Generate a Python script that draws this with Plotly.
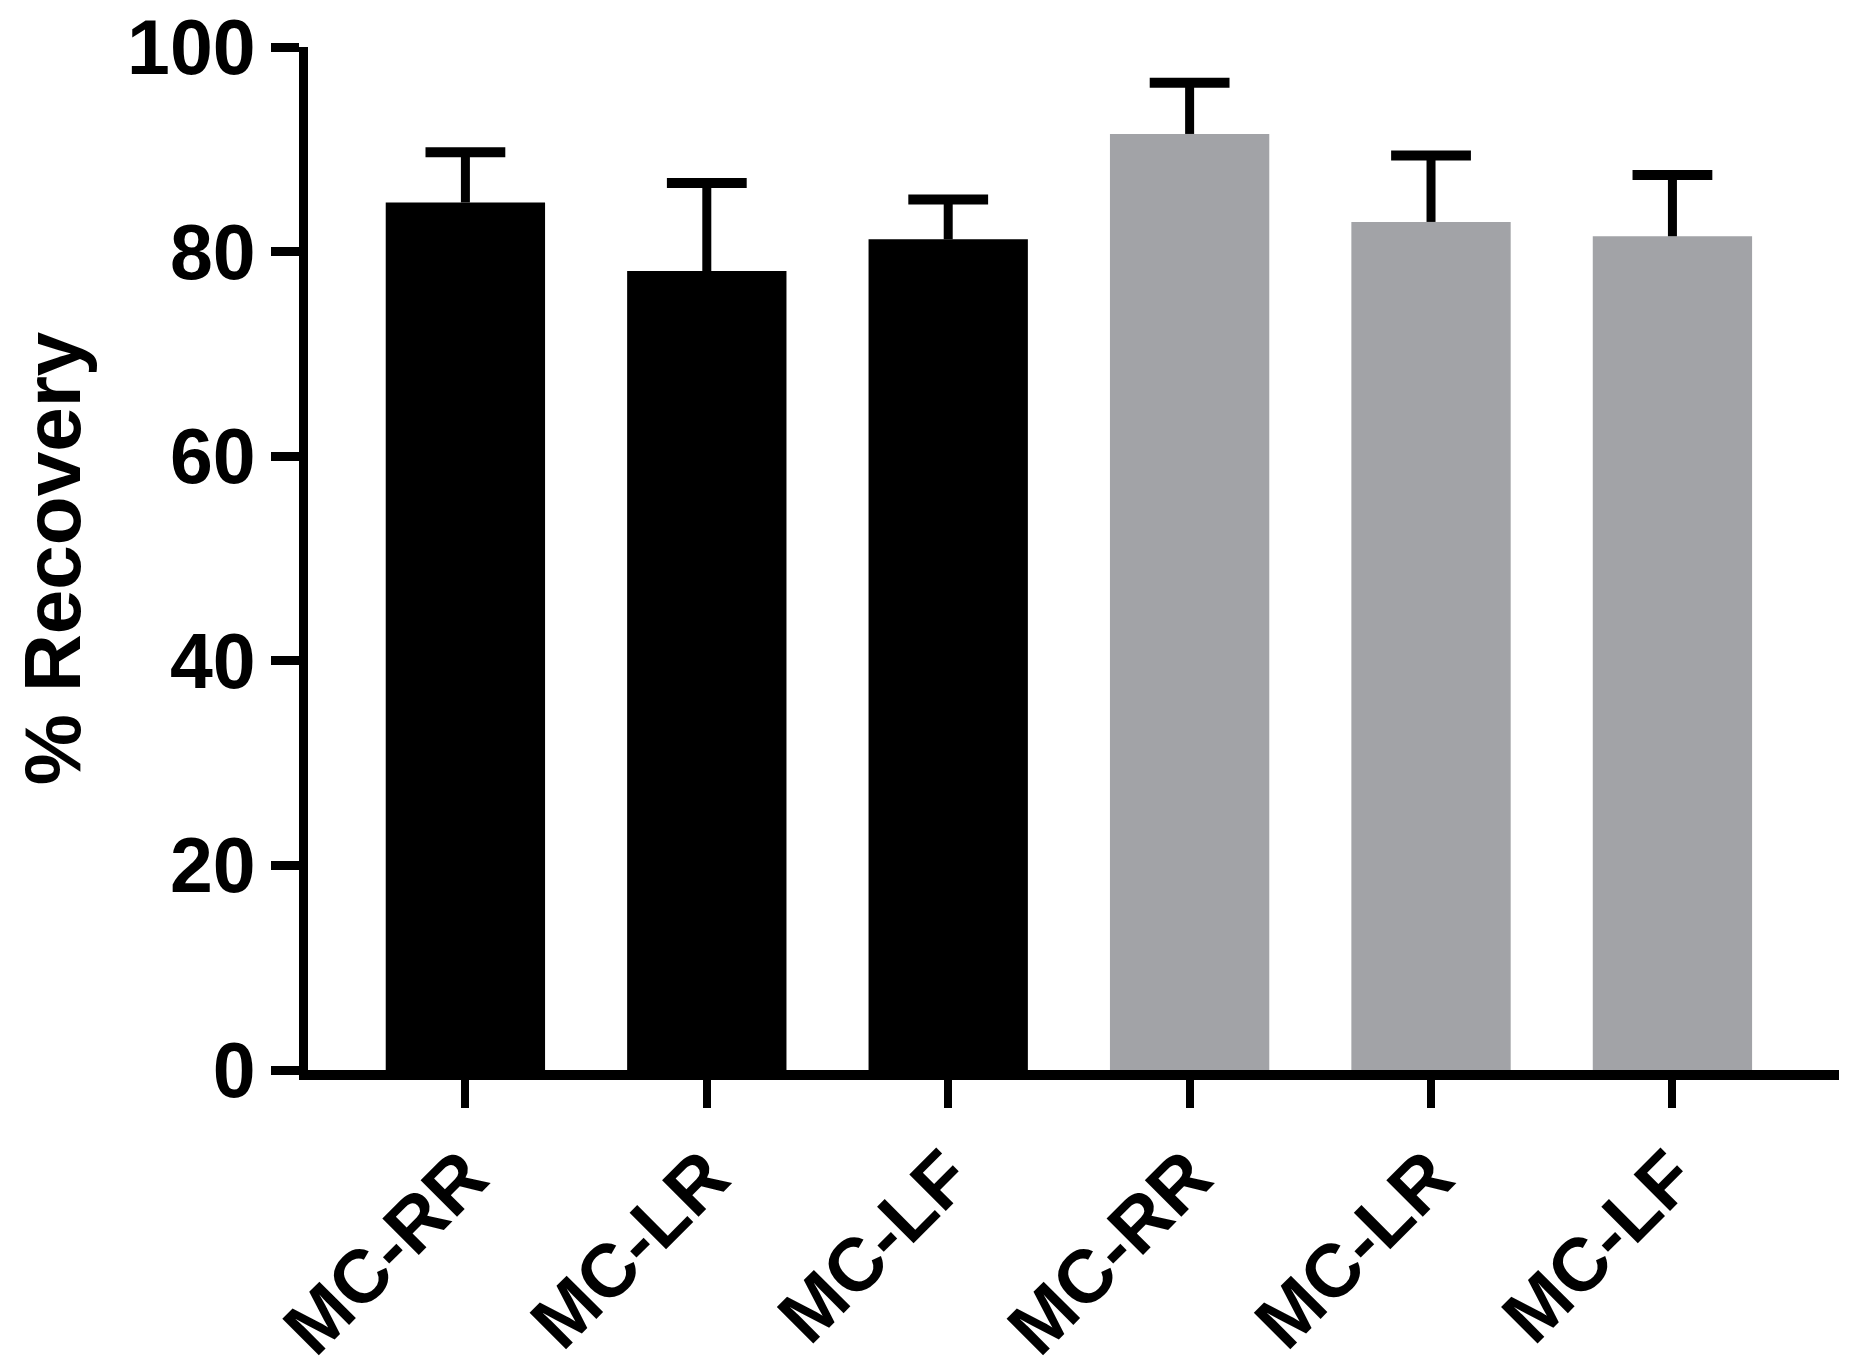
import plotly.graph_objects as go

# ── data ──────────────────────────────────────────────────
labels = ["MC-RR", "MC-LR", "MC-LF", "MC-RR", "MC-LR", "MC-LF"]
recovery = [84.8, 78.1, 81.2, 91.5, 82.9, 81.5]
sd_up = [4.9, 8.6, 3.9, 5.0, 6.5, 6.0]
groups = ["A", "A", "A", "B", "B", "B"]

group_colors = {"A": "#000000", "B": "#a2a3a7"}
positions = list(range(len(labels)))
err_top = [v + s for v, s in zip(recovery, sd_up)]

FONT = "Liberation Sans, Arial, sans-serif"

fig = go.Figure()
fig.add_trace(go.Bar(
    x=positions,
    y=recovery,
    width=0.66,
    marker=dict(color=[group_colors[g] for g in groups], line=dict(width=0)),
    showlegend=False,
    hoverinfo="skip",
))

# one-sided (upper) error bars: stem via error_y, cap via a line marker
fig.add_trace(go.Scatter(
    x=positions,
    y=err_top,
    mode="markers",
    marker=dict(symbol="line-ew", size=57, color="#000000",
                line=dict(color="#000000", width=10)),
    error_y=dict(
        type="data",
        symmetric=False,
        array=[0] * len(sd_up),
        arrayminus=sd_up,
        color="#000000",
        thickness=9,
        width=0,
    ),
    showlegend=False,
    hoverinfo="skip",
))

# page body keeps an 8px margin, so the figure is 16px smaller than the window
fig.update_layout(
    width=1844,
    height=1354,
    margin=dict(l=300, r=13, t=39, b=292),
    plot_bgcolor="white",
    paper_bgcolor="white",
    font=dict(family=FONT, color="#000000"),
    xaxis=dict(
        range=[-0.652, 5.69],
        tickmode="array",
        tickvals=positions,
        ticktext=labels,
        tickangle=-45,
        tickfont=dict(size=75, family=FONT, weight="bold"),
        ticklabeloverflow="allow",
        ticklabelstandoff=-5,
        automargin=False,
        showline=True,
        linecolor="#000000",
        linewidth=10,
        ticks="outside",
        ticklen=28,
        tickwidth=8,
        tickcolor="#000000",
        showgrid=False,
        zeroline=False,
    ),
    yaxis=dict(
        range=[0, 100],
        tickmode="array",
        tickvals=[0, 20, 40, 60, 80, 100],
        tickfont=dict(size=77, family=FONT, weight="bold"),
        ticklabeloverflow="allow",
        automargin=False,
        showline=True,
        linecolor="#000000",
        linewidth=9,
        ticks="outside",
        ticklen=28,
        tickwidth=9,
        tickcolor="#000000",
        showgrid=False,
        zeroline=False,
        title=dict(text="% Recovery", font=dict(size=80, family=FONT, weight="bold"), standoff=40),
    ),
)

fig.write_html("out.html")
